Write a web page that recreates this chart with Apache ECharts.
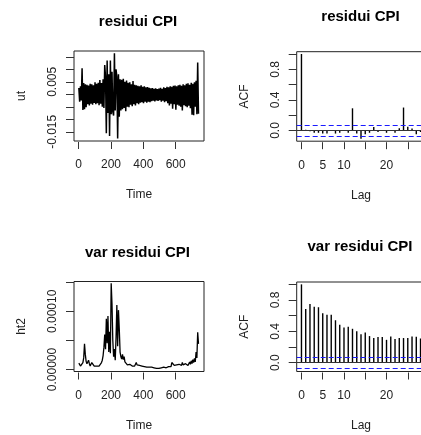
<!DOCTYPE html>
<html>
<head>
<meta charset="utf-8">
<script src="https://cdn.jsdelivr.net/npm/echarts@6/dist/echarts.min.js"></script>
<style>
html,body{margin:0;padding:0;background:#ffffff;width:421px;height:435px;overflow:hidden;}
#c{width:421px;height:435px;}
</style>
</head>
<body>
<div id="c"></div>
<script>
// ---------------- data ----------------
const timeStart = 1;          // first time index
const timeStep = 5;           // spacing of the sampled values below
const utScale = 1e-3;         // ut values are given in units of 0.001
const utValues = [
  2.5,-3.0,3.2,-2.5,10.4,-6.3,4.5,-6.0,4.0,-5.2,
  3.8,-4.0,3.5,-4.5,4.2,-3.8,4.0,-4.2,3.6,-3.5,
  4.8,-4.0,4.2,-3.6,4.6,-4.4,5.7,-3.8,4.5,-5.0,
  6.0,-5.5,11.7,7.0,-15.6,13.5,-7.5,8.0,-16.7,13.5,
  -8.0,9.0,-7.0,-8.5,16.4,-6.5,10.0,7.0,-17.7,8.0,
  -9.0,6.0,-6.5,5.8,-6.0,6.2,-5.5,5.0,-6.8,5.5,
  -5.0,4.6,-5.2,4.8,-4.2,4.0,-4.8,5.3,-4.0,3.8,
  -4.5,3.6,-3.6,3.4,-4.0,3.2,-3.4,3.6,-3.2,3.0,
  -3.6,3.2,-3.0,2.8,-3.4,2.9,-3.0,2.6,-3.2,2.4,
  -2.8,2.5,-2.6,2.2,-2.9,2.4,-2.5,2.1,-2.7,2.3,
  -2.4,2.6,-3.0,2.2,-2.6,2.8,-3.2,2.5,-2.8,3.0,
  -3.6,2.8,-4.5,3.2,-3.8,3.0,-5.8,3.4,-4.0,3.5,
  -6.2,3.2,-4.2,3.6,-4.6,3.8,-5.0,3.4,-6.5,4.0,
  -4.4,3.6,-4.8,4.2,-5.2,4.4,-4.6,3.8,-5.6,4.6,
  -8.2,4.2,-8.4,4.8,-5.0,5.4,-8.0,12.7,-7.8
];
const ht2Scale = 1e-5;        // ht2 values are given in units of 0.00001
const ht2Values = [
  1.1,0.9,0.6,0.5,0.8,1.2,2.0,4.4,2.6,1.4,
  1.0,0.8,1.6,1.0,0.6,0.5,1.2,1.5,0.9,0.6,
  0.5,0.8,0.6,0.5,0.9,0.6,0.5,0.8,1.2,1.6,
  2.4,3.8,6.0,3.5,8.7,4.5,9.2,3.0,6.5,2.8,
  14.8,11.3,5.0,2.2,3.5,1.6,5.5,11.1,4.0,10.2,
  7.0,3.0,2.2,1.8,2.6,1.7,2.2,1.3,1.6,1.0,
  0.8,1.1,0.7,0.9,0.6,0.8,0.6,0.5,0.8,0.6,
  0.7,1.2,0.8,0.6,0.5,0.7,0.5,0.4,0.6,0.5,
  0.8,0.5,0.4,0.6,0.4,0.5,0.7,0.4,0.3,0.5,
  0.4,0.3,0.4,0.3,0.5,0.3,0.2,0.3,0.3,0.2,
  0.3,0.4,0.3,0.2,0.3,0.4,0.3,0.5,0.3,0.4,
  0.3,0.5,0.4,0.6,0.5,1.2,1.5,0.9,0.7,1.0,
  0.6,0.8,1.1,0.7,0.9,0.6,1.0,0.7,1.2,0.8,
  0.9,0.6,1.0,0.8,1.1,0.7,1.0,1.3,0.9,1.5,
  1.0,1.7,1.2,1.9,1.3,3.0,2.0,6.4,4.4
];
const acfLags = [0,1,2,3,4,5,6,7,8,9,10,11,12,13,14,15,16,17,18,19,20,21,22,23,24,25,26,27,28];
const acfResid = [1.0,0.01,-0.01,-0.03,-0.03,-0.04,-0.04,0.005,-0.04,-0.03,0.005,-0.03,0.29,-0.04,-0.107,-0.05,-0.03,0.045,-0.02,0.005,-0.03,0.005,-0.03,0.03,0.30,0.05,0.025,-0.05,-0.02];
const acfVar = [1.0,0.685,0.748,0.714,0.708,0.63,0.613,0.613,0.542,0.483,0.448,0.458,0.433,0.40,0.364,0.385,0.34,0.315,0.328,0.328,0.292,0.336,0.303,0.315,0.315,0.315,0.336,0.332,0.31];
const confLimit = 0.072;

const timeTicks = [0,200,400,600];
const lagTicks = [0,5,10,15,20,25];
const lagLabels = [0,5,10,20];
const utTicks = [-0.015,-0.010,-0.005,0,0.005,0.010,0.015];
const utLabels = [-0.015,0.005];
const ht2Ticks = [0,0.00005,0.0001,0.00015];
const ht2Labels = [0,0.0001];
const acfTicks = [0,0.2,0.4,0.6,0.8,1.0];
const acfLabels = [0,0.4,0.8];

// ---------------- chart ----------------
const FONT = 'Liberation Sans';
const INK = '#222';
const chart = echarts.init(document.getElementById('c'), null, {renderer:'canvas', width:421, height:435});

const utData = utValues.map((v,i)=>[timeStart + i*timeStep, v*utScale]);
const ht2Data = ht2Values.map((v,i)=>[timeStart + i*timeStep, v*ht2Scale]);
const acfResidData = acfLags.map((l,i)=>[l, acfResid[i]]);
const acfVarData = acfLags.map((l,i)=>[l, acfVar[i]]);

function gridBox(left, top, width, height){
  return {left, top, width, height, show:true, borderColor:'#222', borderWidth:1,
          backgroundColor:'rgba(0,0,0,0)', containLabel:false, outerBoundsMode:'none'};
}
function xAx(gi, min, max, name, ticks, labels){
  return {
    type:'value', gridIndex:gi, min, max, offset:1,
    name, nameLocation:'middle', nameGap:47,
    nameTextStyle:{fontFamily:FONT, fontSize:12, color:INK},
    axisLine:{show:false, onZero:false},
    axisTick:{show:true, length:7, customValues:ticks, lineStyle:{color:'#333', width:1}},
    axisLabel:{show:true, customValues:labels, margin:17, fontFamily:FONT, fontSize:12, color:INK},
    splitLine:{show:false}
  };
}
function yAx(gi, min, max, name, ticks, labels, digits){
  return {
    type:'value', gridIndex:gi, min, max,
    name, nameLocation:'middle', nameGap:46,
    nameTextStyle:{fontFamily:FONT, fontSize:12, color:INK},
    axisLine:{show:false, onZero:false},
    axisTick:{show:true, length:8, customValues:ticks, lineStyle:{color:'#333', width:1}},
    axisLabel:{show:true, customValues:labels, rotate:90, margin:15, fontFamily:FONT, fontSize:12, color:INK,
               formatter:(v)=>Number(v).toFixed(digits)},
    splitLine:{show:false}
  };
}
function acfMarks(){
  return {
    silent:true, symbol:['none','none'], animation:false,
    label:{show:false},
    data:[
      {yAxis:0, lineStyle:{color:'#333', type:'solid', width:1}},
      {yAxis:confLimit, lineStyle:{color:'#1a1aff', type:[5,3], width:1}},
      {yAxis:-confLimit, lineStyle:{color:'#1a1aff', type:[5,3], width:1}}
    ]
  };
}
const titleStyle = {fontFamily:FONT, fontSize:15, fontWeight:'bold', color:'#000'};

const option = {
  animation:false,
  backgroundColor:'#ffffff',
  title:[
    {text:'residui CPI', left:138, top:14.5, textAlign:'center', padding:0, textStyle:titleStyle},
    {text:'residui CPI', left:360.5, top:9, textAlign:'center', padding:0, textStyle:titleStyle},
    {text:'var residui CPI', left:137.5, top:245, textAlign:'center', padding:0, textStyle:titleStyle},
    {text:'var residui CPI', left:360, top:239.5, textAlign:'center', padding:0, textStyle:titleStyle}
  ],
  grid:[
    gridBox(74, 51, 130, 90),
    gridBox(296.7, 51.7, 128.6, 89.5),
    gridBox(74, 281.5, 130, 90),
    gridBox(296.7, 282, 128.6, 89.5)
  ],
  xAxis:[
    xAx(0, -29, 775, 'Time', timeTicks, timeTicks),
    xAx(1, -1.12, 29.12, 'Lag', lagTicks, lagLabels),
    xAx(2, -29, 775, 'Time', timeTicks, timeTicks),
    xAx(3, -1.12, 29.12, 'Lag', lagTicks, lagLabels)
  ],
  yAxis:[
    yAx(0, -0.01868, 0.01732, 'ut', utTicks, utLabels, 3),
    yAx(1, -0.14, 1.03, 'ACF', acfTicks, acfLabels, 1),
    yAx(2, -0.0000034, 0.0001512, 'ht2', ht2Ticks, ht2Labels, 5),
    yAx(3, -0.112, 1.03, 'ACF', acfTicks, acfLabels, 1)
  ],
  series:[
    {type:'line', xAxisIndex:0, yAxisIndex:0, data:utData, showSymbol:false, symbol:'none',
     lineStyle:{color:'#000', width:1.5}, silent:true},
    {type:'bar', xAxisIndex:1, yAxisIndex:1, data:acfResidData, barWidth:1.4,
     itemStyle:{color:'#000'}, silent:true, markLine:acfMarks()},
    {type:'line', xAxisIndex:2, yAxisIndex:2, data:ht2Data, showSymbol:false, symbol:'none',
     lineStyle:{color:'#000', width:1.3}, silent:true},
    {type:'bar', xAxisIndex:3, yAxisIndex:3, data:acfVarData, barWidth:1.4,
     itemStyle:{color:'#000'}, silent:true, markLine:acfMarks()}
  ]
};
chart.setOption(option);
</script>
</body>
</html>
